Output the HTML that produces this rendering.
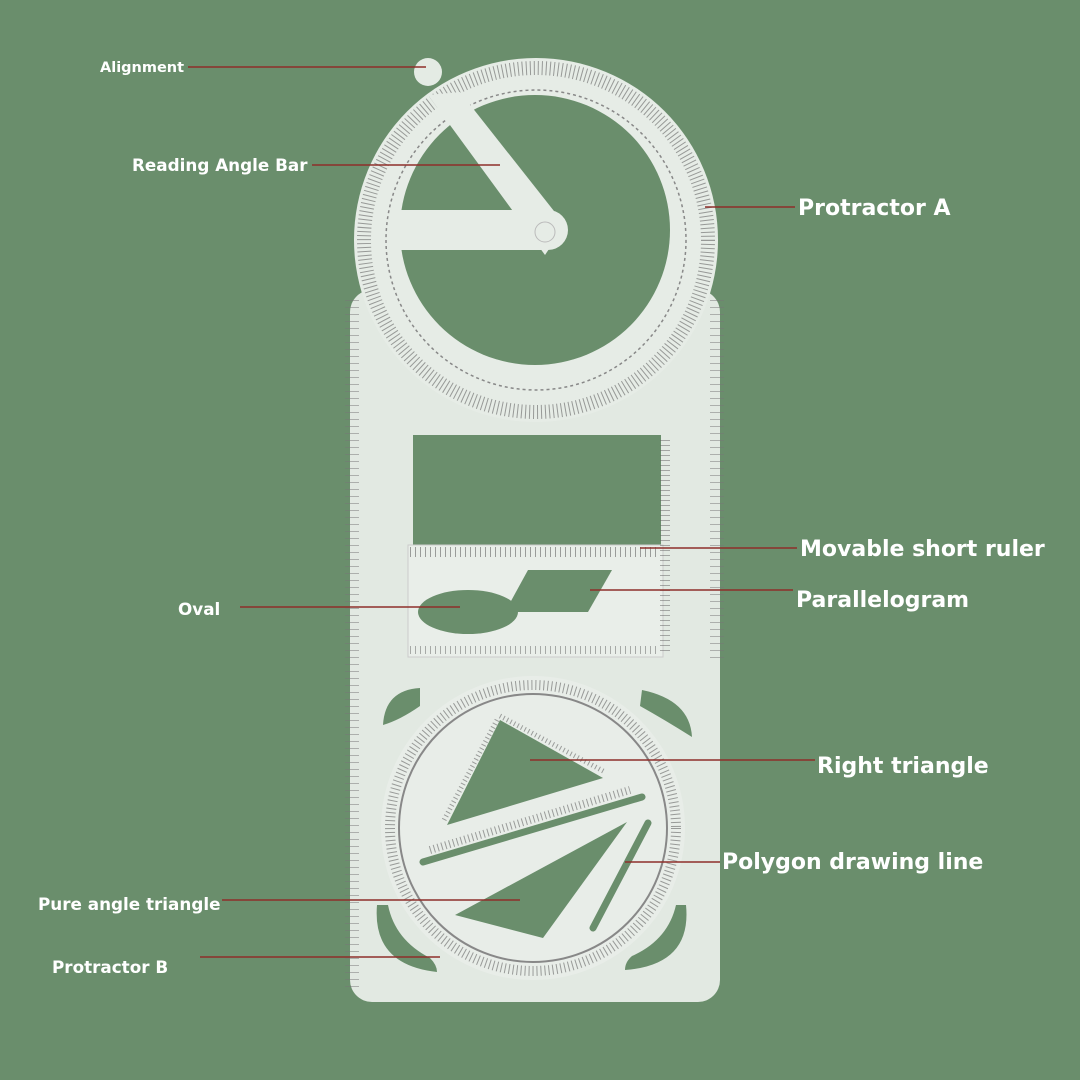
<!DOCTYPE html>
<html><head><meta charset="utf-8"><style>
html,body{margin:0;padding:0;background:#6a8e6c;}
svg{display:block}
text.l{font-family:"DejaVu Sans","Liberation Sans",sans-serif;font-weight:bold;fill:#fff}
</style></head><body>
<svg width="1080" height="1080" viewBox="0 0 1080 1080">
<rect width="1080" height="1080" fill="#6a8e6c"/>
<circle cx="428" cy="72" r="14" fill="#e4ebe4"/>
<rect x="350" y="290" width="370" height="712" rx="22" fill="#e2e9e2"/>
<circle cx="536" cy="240" r="182" fill="#e6ece6"/>
<line x1="352" y1="300" x2="352" y2="990" stroke="#777" stroke-width="14" stroke-dasharray="1 6" opacity=".5"/>
<line x1="717" y1="300" x2="717" y2="660" stroke="#777" stroke-width="14" stroke-dasharray="1 6" opacity=".5"/>
<circle cx="536" cy="240" r="172" fill="none" stroke="#555" stroke-width="14" stroke-dasharray="1 3" opacity=".55"/>
<circle cx="536" cy="240" r="150" fill="none" stroke="#888" stroke-width="1.5" stroke-dasharray="3 3"/>
<circle cx="535" cy="230" r="135" fill="#6a8e6c"/>
<polygon points="428,95 460,92 565,225 545,255" fill="#e6ece6"/>
<path d="M398,210 L548,210 A20,20 0 0 1 548,250 L398,250 Z" fill="#e6ece6"/>
<polygon points="408,208 498,208 446,136" fill="#6a8e6c"/>
<circle cx="545" cy="232" r="10" fill="none" stroke="#bbb"/>
<rect x="413" y="435" width="248" height="112" fill="#6a8e6c"/>
<rect x="408" y="545" width="255" height="112" fill="#e9eee9" stroke="#ccc"/>
<line x1="410" y1="552" x2="660" y2="552" stroke="#666" stroke-width="10" stroke-dasharray="1 4" opacity=".6"/>
<line x1="410" y1="650" x2="660" y2="650" stroke="#666" stroke-width="8" stroke-dasharray="1 4" opacity=".5"/>
<line x1="665" y1="440" x2="665" y2="655" stroke="#666" stroke-width="10" stroke-dasharray="1 4" opacity=".5"/>
<polygon points="528,570 612,570 588,612 505,612" fill="#6a8e6c"/>
<ellipse cx="468" cy="612" rx="50" ry="22" fill="#6a8e6c"/>
<path d="M420,688 Q385,690 383,725 Q400,720 420,706 Z" fill="#6a8e6c"/>
<path d="M642,690 Q690,700 692,737 Q665,720 640,706 Z" fill="#6a8e6c"/>
<path d="M377,905 Q372,965 437,972 Q437,965 430,958 Q395,940 388,905 Z" fill="#6a8e6c"/>
<path d="M686,905 Q692,965 625,970 Q625,962 632,956 Q668,940 676,905 Z" fill="#6a8e6c"/>
<circle cx="533" cy="828" r="152" fill="#e8ede8"/>
<circle cx="533" cy="828" r="143" fill="none" stroke="#555" stroke-width="10" stroke-dasharray="1 3" opacity=".55"/>
<circle cx="533" cy="828" r="134" fill="none" stroke="#888" stroke-width="2"/>
<polygon points="500,720 603,778 447,825" fill="#6a8e6c"/>
<line x1="423" y1="862" x2="642" y2="797" stroke="#6a8e6c" stroke-width="7" stroke-linecap="round"/>
<polygon points="627,822 455,915 543,938" fill="#6a8e6c"/>
<line x1="648" y1="823" x2="593" y2="928" stroke="#6a8e6c" stroke-width="7" stroke-linecap="round"/>
<line x1="430" y1="850" x2="630" y2="790" stroke="#666" stroke-width="8" stroke-dasharray="1 3" opacity=".6"/>
<line x1="500" y1="716" x2="605" y2="772" stroke="#666" stroke-width="5" stroke-dasharray="1 3" opacity=".6"/>
<line x1="497" y1="720" x2="443" y2="822" stroke="#666" stroke-width="5" stroke-dasharray="1 3" opacity=".6"/>
<g stroke="#8e2f2a" stroke-width="1.5">
<line x1="188" y1="67" x2="426" y2="67"/>
<line x1="312" y1="165" x2="500" y2="165"/>
<line x1="705" y1="207" x2="795" y2="207"/>
<line x1="640" y1="548" x2="797" y2="548"/>
<line x1="590" y1="590" x2="793" y2="590"/>
<line x1="240" y1="607" x2="460" y2="607"/>
<line x1="530" y1="760" x2="815" y2="760"/>
<line x1="625" y1="862" x2="720" y2="862"/>
<line x1="222" y1="900" x2="520" y2="900"/>
<line x1="200" y1="957" x2="440" y2="957"/>
</g>
<text class="l" x="100" y="72" font-size="14.5">Alignment</text>
<text class="l" x="132" y="171" font-size="16.8">Reading Angle Bar</text>
<text class="l" x="798" y="215" font-size="22">Protractor A</text>
<text class="l" x="800" y="556" font-size="22">Movable short ruler</text>
<text class="l" x="796" y="607" font-size="22">Parallelogram</text>
<text class="l" x="178" y="615" font-size="16.8">Oval</text>
<text class="l" x="817" y="773" font-size="22">Right triangle</text>
<text class="l" x="722" y="869" font-size="22">Polygon drawing line</text>
<text class="l" x="38" y="910" font-size="16.8">Pure angle triangle</text>
<text class="l" x="52" y="973" font-size="16.8">Protractor B</text>
</svg>
</body></html>
